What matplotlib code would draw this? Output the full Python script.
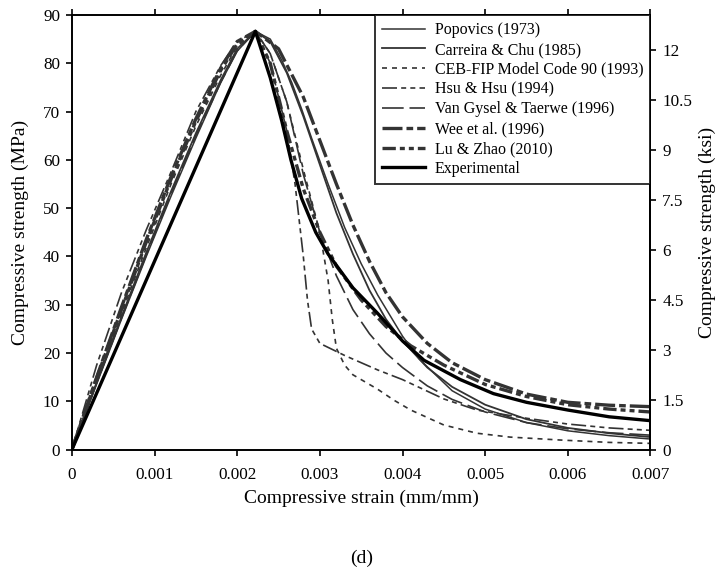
import matplotlib
matplotlib.use("Agg")
import matplotlib.pyplot as plt

plt.rcParams.update({
    "font.family": ["Liberation Serif", "DejaVu Serif"],
    "font.size": 12.3,
    "axes.linewidth": 1.4,
    "xtick.direction": "out",
    "ytick.direction": "out",
    "xtick.major.size": 4.5,
    "ytick.major.size": 4.5,
    "xtick.major.width": 1.2,
    "ytick.major.width": 1.2,
})

# strain (mm/mm) and stress (MPa)
asc_strain = [0, 0.0003, 0.0006, 0.0009, 0.0012, 0.0015, 0.0018, 0.0020, 0.00222]

exp_x = [0, 0.00222, 0.0024, 0.00254, 0.00265, 0.00278, 0.00295, 0.0031, 0.0034,
         0.0037, 0.0040, 0.00426, 0.0047, 0.0051, 0.0055, 0.0060, 0.0065, 0.0070]
exp_y = [0, 86.6, 77, 68, 60, 52, 45, 40.5, 33.5, 28.2, 22.5, 18.5, 14.5, 11.6,
         9.8, 8.2, 6.8, 6.0]

asc_popovics_y = [0, 13.6, 27, 40, 52.5, 64.5, 76, 82.5, 86.6]
desc_popovics_x = [0.0024, 0.00254, 0.00266, 0.00278, 0.0029, 0.0031, 0.0033, 0.0035,
                   0.0037, 0.0040, 0.0042, 0.0046, 0.0050, 0.0055, 0.0060, 0.0065, 0.0070]
desc_popovics_y = [85, 80.6, 76, 70.5, 64.5, 55, 46, 38.5, 32, 23.5, 18.8, 12.2, 8.4,
                   5.6, 3.9, 2.9, 2.2]

asc_carreira_y = [0, 13.9, 27.5, 40.8, 53.5, 65.5, 76.5, 83, 86.6]
desc_carreira_x = [0.0024, 0.0026, 0.0028, 0.0030, 0.0032, 0.0034, 0.0036, 0.0038,
                   0.0040, 0.0043, 0.0046, 0.0050, 0.0055, 0.0060, 0.0065, 0.0070]
desc_carreira_y = [84.5, 78, 69, 59, 49, 40.5, 33, 27, 22.5, 17, 13, 9.3, 6.3, 4.5,
                   3.4, 2.6]

asc_ceb_y = [0, 14.2, 28.2, 41.8, 55, 67, 77.5, 83.5, 86.6]
desc_ceb_x = [0.0024, 0.0026, 0.0028, 0.0030, 0.0031, 0.00315, 0.0032, 0.0033, 0.0034,
              0.0037, 0.0039, 0.0041, 0.0045, 0.0049, 0.0053, 0.0059, 0.0065, 0.0070]
desc_ceb_y = [82, 72, 58, 45, 35, 27, 21, 17.5, 15.5, 12.5, 10.2, 8.2, 5.1, 3.4, 2.6,
              2.0, 1.5, 1.3]

asc_hsu_y = [0, 17.5, 32.5, 45.5, 57.5, 70, 79.5, 84.5, 86.6]
desc_hsu_x = [0.0024, 0.0026, 0.0027, 0.0028, 0.00285, 0.0029, 0.0030, 0.0033, 0.0035,
              0.0037, 0.0040, 0.0045, 0.0049, 0.0055, 0.0060, 0.0065, 0.0070]
desc_hsu_y = [80, 66, 55, 40, 31, 25, 22, 19.5, 18, 16.5, 14.5, 10.5, 8.2, 6.5, 5.3,
              4.5, 4.0]

asc_vangysel_y = [0, 13.8, 27.2, 40.3, 53, 65, 76, 82.6, 86.6]
desc_vangysel_x = [0.0024, 0.0026, 0.0028, 0.0030, 0.0032, 0.0034, 0.0036, 0.0038,
                   0.0040, 0.0043, 0.0046, 0.0050, 0.0055, 0.0060, 0.0065, 0.0070]
desc_vangysel_y = [82, 72, 57, 45, 36, 29, 24, 20, 17, 13.2, 10.4, 7.8, 5.6, 4.3,
                   3.5, 3.0]

asc_wee_y = [0, 15, 29.5, 43.5, 56.5, 68.5, 79, 84.5, 86.6]
desc_wee_x = [0.0025, 0.0028, 0.0030, 0.0032, 0.0034, 0.0036, 0.0038, 0.0040, 0.0043,
              0.0046, 0.0050, 0.0055, 0.0060, 0.0065, 0.0070]
desc_wee_y = [83, 73, 64, 55, 46.5, 39, 32.5, 27.5, 22, 18, 14.5, 11.5, 9.8, 9.2, 8.9]

asc_luzhao_y = [0, 14.8, 29, 43, 56, 68, 78.5, 84, 86.6]
desc_luzhao_x = [0.0024, 0.0026, 0.0028, 0.0030, 0.0032, 0.0035, 0.0038, 0.0041,
                 0.0045, 0.0050, 0.0055, 0.0060, 0.0065, 0.0070]
desc_luzhao_y = [80, 66, 54, 45, 38, 31, 25.5, 21.5, 17.5, 13.5, 11, 9.3, 8.4, 7.8]

ksi_ticks = [0, 1.5, 3, 4.5, 6, 7.5, 9, 10.5, 12]
ksi_labels = ["0", "1.5", "3", "4.5", "6", "7.5", "9", "10.5", "12"]

GREY = "#333333"
models = [
    ("Popovics (1973)", asc_popovics_y, desc_popovics_x, desc_popovics_y,
     dict(lw=1.1, ls="-")),
    ("Carreira & Chu (1985)", asc_carreira_y, desc_carreira_x, desc_carreira_y,
     dict(lw=1.3, ls="-")),
    ("CEB-FIP Model Code 90 (1993)", asc_ceb_y, desc_ceb_x, desc_ceb_y,
     dict(lw=1.2, ls=(0, (3, 3)))),
    ("Hsu & Hsu (1994)", asc_hsu_y, desc_hsu_x, desc_hsu_y,
     dict(lw=1.2, ls=(0, (9, 2.5, 3, 2.5, 3, 2.5)))),
    ("Van Gysel & Taerwe (1996)", asc_vangysel_y, desc_vangysel_x, desc_vangysel_y,
     dict(lw=1.2, ls=(0, (13, 3.5)))),
    ("Wee et al. (1996)", asc_wee_y, desc_wee_x, desc_wee_y,
     dict(lw=2.4, ls=(0, (6, 1.2, 2, 1.2)))),
    ("Lu & Zhao (2010)", asc_luzhao_y, desc_luzhao_x, desc_luzhao_y,
     dict(lw=2.4, ls=(0, (4, 1.2, 1.5, 1.2, 1.5, 1.2)))),
]

fig = plt.figure(figsize=(7.26, 5.75), dpi=100)
ax = fig.add_axes([0.099, 0.218, 0.797, 0.756])

for label, ay, dx, dy, st in models:
    ax.plot(asc_strain + dx, ay + dy, color=GREY, label=label, **st)
ax.plot(exp_x, exp_y, color="black", lw=2.4, label="Experimental")

ax.set_xlim(0, 0.007)
ax.set_ylim(0, 90)
ax.set_xticks([0, 0.001, 0.002, 0.003, 0.004, 0.005, 0.006, 0.007])
ax.set_xticklabels(["0", "0.001", "0.002", "0.003", "0.004", "0.005", "0.006", "0.007"])
ax.set_yticks(range(0, 91, 10))
ax.tick_params(axis="x", top=True, labeltop=False, pad=8)
ax.tick_params(axis="y", pad=4)
ax.set_xlabel("Compressive strain (mm/mm)", fontsize=14, labelpad=5)
ax.set_ylabel("Compressive strength (MPa)", fontsize=14, labelpad=10)

sec = ax.secondary_yaxis("right", functions=(lambda v: v / 6.895, lambda v: v * 6.895))
sec.set_yticks(ksi_ticks)
sec.set_yticklabels(ksi_labels)
sec.tick_params(axis="y", pad=4)
sec.set_ylabel("Compressive strength (ksi)", fontsize=14, labelpad=5)
sec.spines["right"].set_linewidth(1.4)

leg = ax.legend(loc="upper right", fontsize=11.5, frameon=True, fancybox=False,
                borderaxespad=0, handlelength=2.7, labelspacing=0.24,
                borderpad=0.45, handletextpad=0.6)
leg.get_frame().set_edgecolor("black")
leg.get_frame().set_linewidth(1.4)

fig.text(0.5 * (0.099 + 0.896), 1 - 558 / 575, "(d)", ha="center", va="center",
         fontsize=14)

fig.savefig("out.png", dpi=100)
